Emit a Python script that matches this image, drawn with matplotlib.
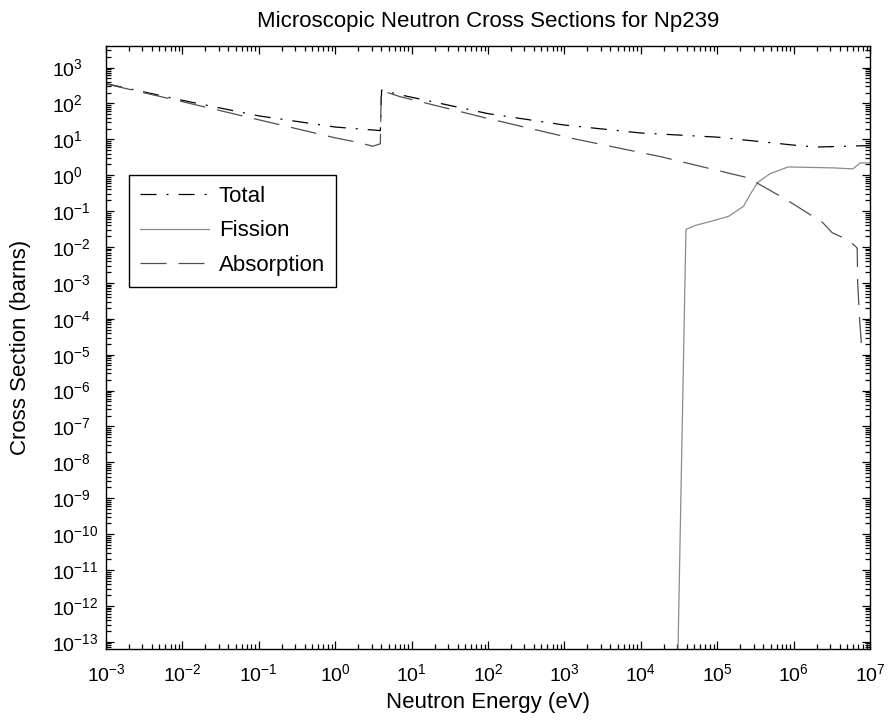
import numpy as np
import matplotlib
matplotlib.use("Agg")
import matplotlib.pyplot as plt
from matplotlib.ticker import (LogLocator, FixedLocator, NullFormatter,
                               LogFormatterMathtext)

plt.rcParams["font.family"] = ["Liberation Sans", "DejaVu Sans"]
plt.rcParams["mathtext.fontset"] = "custom"
plt.rcParams["mathtext.rm"] = "Liberation Sans"
plt.rcParams["mathtext.default"] = "regular"
plt.rcParams["lines.scale_dashes"] = False

# Total cross section (eV, barns)
total_e = [1e-3, 1e-2, 1e-1, 1.0, 3.9, 4.05, 7.0, 30, 100, 1e3, 1e4, 1e5, 1e6, 2e6, 1e7]
total_xs = [355, 122, 45, 22, 17.5, 235, 175, 90, 52, 25, 15, 11.5, 6.9, 6.1, 6.7]

# Fission cross section
fission_e = [2.9e4, 3.9e4, 5.2e4, 8e4, 1.4e5, 2.2e5, 2.8e5, 3.4e5, 4.9e5, 8.5e5,
             3.3e6, 6e6, 7.4e6, 1e7]
fission_xs = [1e-16, 0.031, 0.04, 0.051, 0.071, 0.135, 0.33, 0.63, 1.1, 1.7,
              1.6, 1.5, 2.2, 2.2]

# Absorption cross section
absorb_e = [1e-3, 1e-2, 1e-1, 1.0, 2.1, 3.1, 3.9, 4.0, 7.0, 100, 1.3e3, 1.8e4,
            2.4e5, 3.4e5, 8e5, 2.4e6, 3.2e6, 5.1e6, 6.6e6, 6.8e6, 6.9e6, 7.3e6, 7.8e6]
absorb_xs = [350, 112, 35, 11, 8, 6.4, 7.5, 230, 155, 38, 10.5, 3.3,
             0.87, 0.59, 0.21, 0.048, 0.025, 0.016, 0.01, 0.009, 1e-3, 1e-4, 1.5e-5]

# labelled decades
x_decades = 10.0 ** np.arange(-3, 8)
y_decades = 10.0 ** np.arange(-13, 4)

px = 0.72  # points per pixel at 100 dpi

fig = plt.figure(figsize=(8.91, 7.25), dpi=100)
ax = fig.add_axes([106 / 891, 1 - 649 / 725, 764 / 891, 603 / 725])

ax.loglog(total_e, total_xs, color="black", lw=0.9,
          dashes=(16 * px, 10 * px, 2 * px, 10 * px), label="Total")
ax.loglog(fission_e, fission_xs, color="#8c8c8c", lw=0.9, label="Fission")
ax.loglog(absorb_e, absorb_xs, color="#505050", lw=0.9,
          dashes=(26 * px, 12 * px), label="Absorption")

ax.set_xlim(1e-3, 1e7)
ax.set_ylim(10 ** -13.2, 10 ** 3.6)

for axis, dec in ((ax.xaxis, x_decades), (ax.yaxis, y_decades)):
    axis.set_major_locator(FixedLocator(dec))
    axis.set_minor_locator(LogLocator(base=10, subs=np.arange(2, 10), numticks=40))
    axis.set_minor_formatter(NullFormatter())
    axis.set_major_formatter(LogFormatterMathtext())

ax.tick_params(which="both", direction="in", top=True, right=True, labelsize=14)
ax.tick_params(which="major", length=6, width=0.9)
ax.tick_params(which="minor", length=3.5, width=0.9)
ax.tick_params(axis="x", pad=10)
ax.tick_params(axis="y", pad=39)
for s in ax.spines.values():
    s.set_linewidth(1.0)

# MATLAB-style: y tick labels start at a common left edge
for tick in ax.yaxis.get_major_ticks():
    tick.label1.set_horizontalalignment("left")

ax.set_title("Microscopic Neutron Cross Sections for Np239", fontsize=16, pad=13.5)
ax.set_xlabel("Neutron Energy (eV)", fontsize=16, labelpad=5)
ax.set_ylabel("Cross Section (barns)", fontsize=16)
ax.yaxis.set_label_coords(-0.098, 0.5)

leg = ax.legend(loc="upper left", bbox_to_anchor=(0.03, 0.786), fontsize=16,
                handlelength=3.1, handletextpad=0.45, labelspacing=0.6,
                borderpad=0.5, fancybox=False, framealpha=1,
                edgecolor="black", borderaxespad=0)
leg.get_frame().set_linewidth(1.0)

fig.savefig("out.png", dpi=100)
